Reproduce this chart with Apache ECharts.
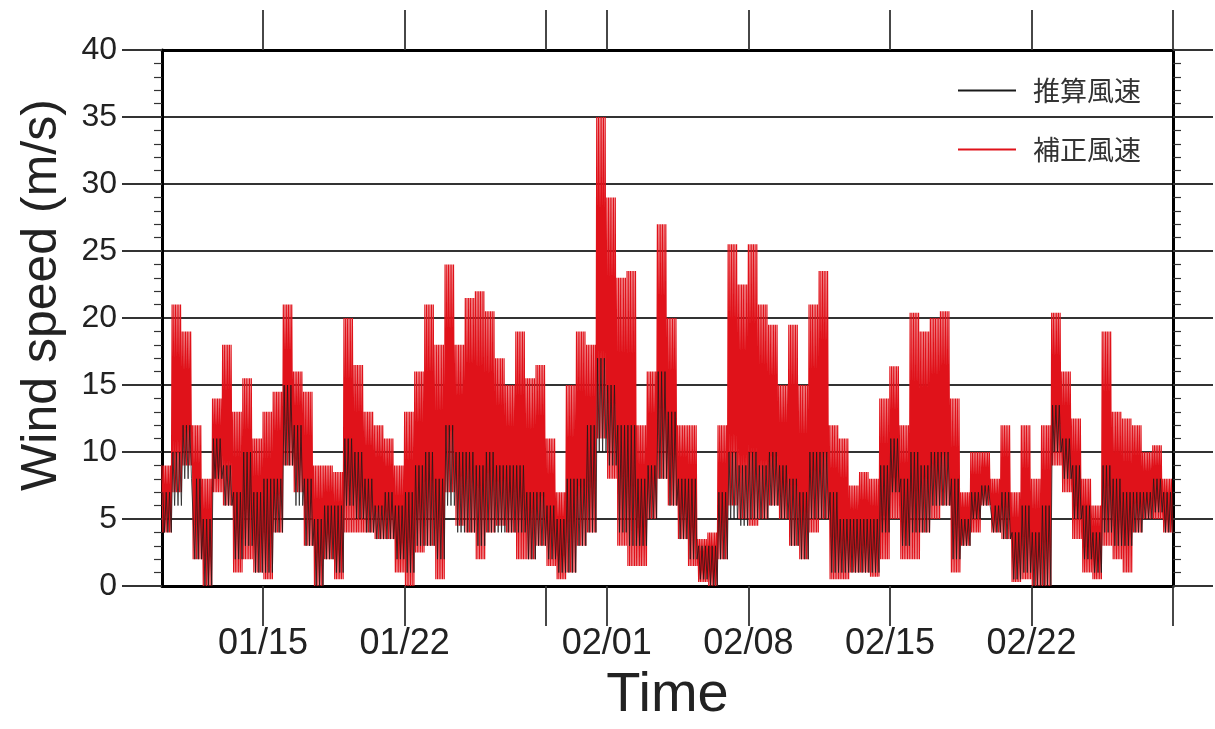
<!DOCTYPE html>
<html>
<head>
<meta charset="utf-8">
<title>Wind speed</title>
<script src="https://cdn.jsdelivr.net/npm/echarts@6.0.0/dist/echarts.min.js"></script>
<style>
    html, body { margin: 0; padding: 0; background: #fff; }
    #chart { width: 1215px; height: 729px; }
</style>
</head>
<body>
<div id="chart"></div>
<script>
// time axis in days from 01/10 00:00, one bin = half a day
var startDay = 0, endDay = 50, binDays = 0.5;

// tick positions (days) and the labels that are shown
var tickDays = [5, 12, 19, 22, 29, 36, 43, 50];
var labelDays = [5, 12, 22, 29, 36, 43];
var labelTexts = ['01/15', '01/22', '02/01', '02/08', '02/15', '02/22'];

var seriesNames = ['推算風速', '補正風速'];

// 補正風速 (red): max / min per half day
var redHi = [
    9, 21, 19, 12, 8, 14, 18, 13, 15.5, 11,
    13, 14.5, 21, 16, 14.5, 9, 9, 8.5, 20, 16.5,
    13, 12, 11, 9, 13, 16, 21, 18, 24, 18,
    21.5, 22, 20.5, 17, 15, 19, 15.5, 16.5, 11, 7,
    15, 19, 18, 35, 29, 23, 23.5, 12, 16, 27,
    20, 12, 12, 3.5, 4, 12, 25.5, 22.5, 25.5, 21,
    19.5, 15, 19.5, 15, 21, 23.5, 12, 11, 7.5, 8.5,
    8, 14, 16.4, 12, 20.4, 19, 20, 20.5, 14, 7,
    10, 10, 8, 12, 7, 12, 8, 12, 20.4, 16,
    12.5, 8, 6, 19, 13, 12.5, 12, 10, 10.5, 8
];
var redLo = [
    4, 7, 9, 2, 0, 7, 6, 1, 2, 1,
    0.5, 4, 9, 7, 3, 0, 2, 0.5, 4, 4,
    4, 3.5, 3.5, 1, 0, 2.5, 3, 0.5, 7, 4.5,
    4, 2, 4, 4.5, 4, 2, 2, 3, 1.5, 0.5,
    1, 3, 4, 11, 8, 3, 1.5, 1.5, 5, 8,
    6, 3.5, 1.5, 0.3, 0, 2, 6, 5, 4.5, 5,
    6, 5, 3, 2, 4, 5, 0.5, 0.5, 1, 1,
    0.7, 2, 5, 2, 2, 4, 5, 6, 1, 3,
    4, 6, 4, 3.5, 0.3, 0.5, 0, 0, 9, 7,
    3.5, 1, 0.5, 3, 2, 1, 4, 5, 5, 4
];

// 推算風速 (black): max / min per half day
var blackHi = [
    7, 10, 12, 8, 5, 11, 9, 7, 10, 7,
    8, 8, 15, 12, 8, 5, 6, 6, 11, 10,
    8, 6, 7, 6, 7, 9, 10, 8, 12, 10,
    10, 9, 10, 9, 9, 9, 7, 7, 6, 5,
    8, 8, 12, 17, 15, 12, 12, 8, 9, 16,
    13, 8, 8, 3, 3, 7, 10, 9, 10, 9,
    10, 9, 8, 7, 10, 10, 7, 5, 5, 5,
    5, 9, 11, 8, 10, 9, 10, 10, 8, 5,
    7, 7.5, 6, 7, 4, 6, 4, 6, 13.5, 11,
    9, 6, 4, 9, 8, 7, 7, 7, 8, 7
];
var blackLo = [
    4, 6, 8, 2, 0, 8, 6, 2, 3, 1,
    1, 4, 9, 6, 3, 0, 2, 1, 6, 5,
    4, 3.5, 3.5, 2, 1, 3, 3, 2, 6, 4,
    4, 3, 4, 4, 4, 4, 2, 3, 2, 1,
    1, 3, 4, 10, 9, 4, 3, 3, 5, 8,
    6, 3.5, 2, 0.5, 0, 2, 5, 4.5, 5, 5,
    6, 5, 3, 2, 5, 5, 1, 1, 1, 1,
    1, 4, 7, 3, 4, 4, 6, 6, 2, 3,
    5, 6, 4, 3.5, 0.5, 1, 0, 0, 10, 8,
    5, 2, 1, 4, 3, 3, 4, 5, 5.5, 4
];

// each half day is drawn as a zigzag between its max and min
function zigzag(hi, lo, steps, shift) {
    var pts = [];
    for (var i = 0; i < hi.length; i++) {
        for (var k = 0; k < steps; k++) {
            var t = startDay + i * binDays + (k + shift) / steps * binDays;
            pts.push([t, k % 2 === 0 ? hi[i] : lo[i]]);
        }
    }
    return pts;
}

var latin = '"Liberation Sans", Arial, sans-serif';
var frame = { show: true, onZero: false, lineStyle: { color: '#000', width: 3 } };
var gridLine = { color: '#333', width: 1.8 };
var minorLine = { color: '#333', width: 1.2 };

var chart = echarts.init(document.getElementById('chart'));

var option = {
    animation: false,
    backgroundColor: '#fff',
    grid: { left: 162, right: 42, top: 50, bottom: 136 },
    legend: {
        orient: 'vertical',
        left: 953,
        top: 72,
        icon: 'rect',
        itemWidth: 58,
        itemHeight: 2,
        itemGap: 32,
        data: seriesNames,
        textStyle: {
            fontFamily: '"Noto Sans CJK JP", sans-serif',
            fontSize: 27,
            color: '#333',
            padding: [0, 0, 0, 12]
        }
    },
    xAxis: [{
        type: 'value',
        min: startDay,
        max: endDay,
        position: 'bottom',
        name: 'Time',
        nameLocation: 'middle',
        nameGap: 82,
        nameTextStyle: { fontFamily: latin, fontSize: 56, color: '#222' },
        axisLine: frame,
        axisTick: { show: true, inside: false, length: 40, customValues: tickDays, lineStyle: gridLine },
        axisLabel: {
            show: true, margin: 40, customValues: labelDays,
            fontFamily: latin, fontSize: 36, color: '#222',
            formatter: function (v) {
                var i = labelDays.indexOf(Math.round(v));
                return i >= 0 ? labelTexts[i] : '';
            }
        },
        splitLine: { show: false }
    }, {
        type: 'value',
        min: startDay,
        max: endDay,
        position: 'top',
        axisLine: frame,
        axisTick: { show: true, inside: false, length: 40, customValues: tickDays, lineStyle: gridLine },
        axisLabel: { show: false },
        splitLine: { show: false }
    }],
    yAxis: [{
        type: 'value',
        min: 0,
        max: 40,
        interval: 5,
        position: 'left',
        axisLine: frame,
        axisTick: { show: true, inside: false, length: 40, lineStyle: gridLine },
        minorTick: { show: true, splitNumber: 5, length: 8, lineStyle: minorLine },
        axisLabel: { margin: 45, fontFamily: latin, fontSize: 32, color: '#222' },
        splitLine: { show: true, lineStyle: gridLine }
    }, {
        type: 'value',
        min: 0,
        max: 40,
        interval: 5,
        position: 'right',
        axisLine: frame,
        axisTick: { show: true, inside: false, length: 40, lineStyle: gridLine },
        minorTick: { show: true, splitNumber: 5, length: 8, lineStyle: minorLine },
        axisLabel: { show: false },
        splitLine: { show: false }
    }],
    graphic: [{
        type: 'text',
        x: 42,
        y: 295,
        rotation: Math.PI / 2,
        style: {
            text: 'Wind speed (m/s)',
            font: '50px "Liberation Sans", Arial, sans-serif',
            fill: '#222',
            align: 'center',
            verticalAlign: 'middle'
        }
    }],
    series: [{
        name: seriesNames[1],
        type: 'line',
        data: zigzag(redHi, redLo, 12, 0),
        showSymbol: false,
        silent: true,
        z: 2,
        color: '#e0121a',
        lineStyle: { width: 1.2, color: '#e0121a' }
    }, {
        // black drawn over the red, sparser so the red still shows
        name: seriesNames[0],
        type: 'line',
        data: zigzag(blackHi, blackLo, 6, 0.5),
        showSymbol: false,
        silent: true,
        z: 3,
        color: '#1a1a1a',
        lineStyle: { width: 1, color: '#1a1a1a', opacity: 0.75 }
    }]
};

chart.setOption(option);
</script>
</body>
</html>
